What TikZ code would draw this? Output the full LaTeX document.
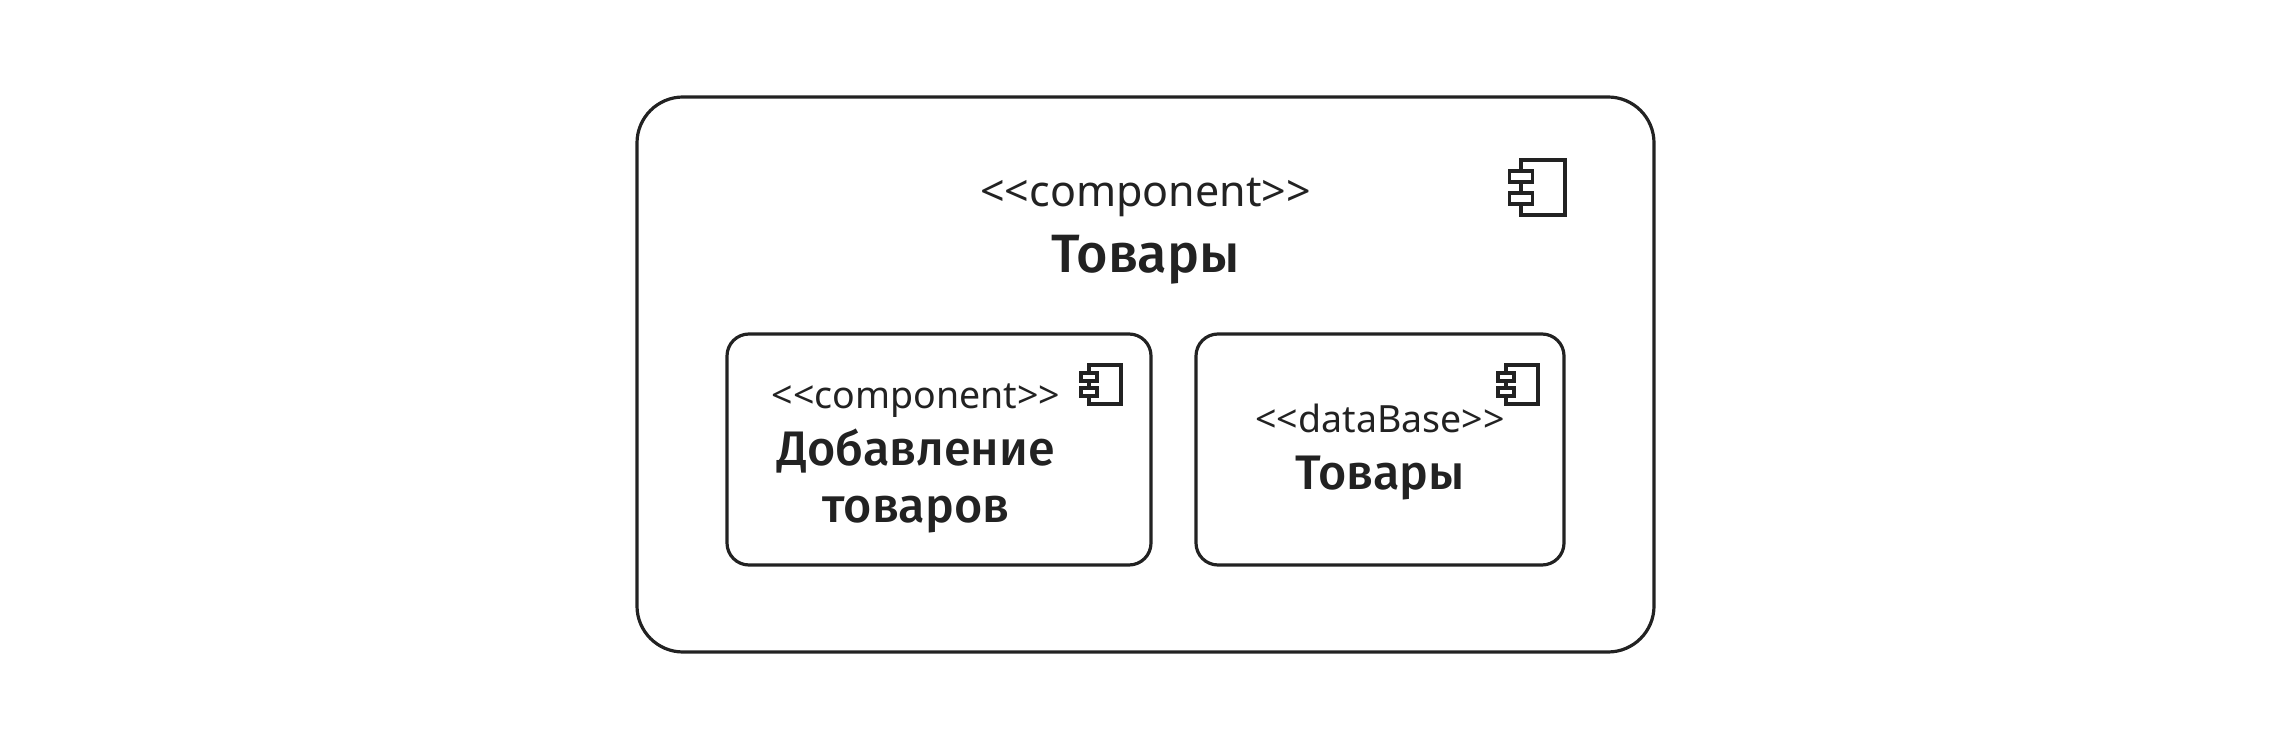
\documentclass[tikz,border=0pt]{standalone}
\usepackage{fontspec}
\setmainfont{Noto Sans}
\newfontfamily\namefont{Fira Sans Medium}
\usepackage{tikz}
\usetikzlibrary{calc,positioning}
\definecolor{ink}{HTML}{222222}

\begin{document}
\begin{tikzpicture}[text=ink, draw=ink]
	\tikzstyle{outerbox} = [draw, rectangle, rounded corners=46pt, line width=3.2pt, inner sep=0pt, outer sep=0pt, minimum width=1017pt, minimum height=555pt]
	\tikzstyle{innerbox} = [draw, rectangle, rounded corners=22pt, line width=3.2pt, inner sep=0pt, outer sep=0pt, minimum height=231pt]
	\tikzstyle{iconbody} = [draw, rectangle, line width=3.2pt, inner sep=0pt, outer sep=0pt, minimum width=44pt, minimum height=55pt]
	\tikzstyle{iconpin} = [draw, rectangle, fill=white, line width=3.2pt, inner sep=0pt, outer sep=0pt, minimum width=23pt, minimum height=11pt]
	\tikzstyle{smallbody} = [iconbody, minimum width=32pt, minimum height=39pt]
	\tikzstyle{smallpin} = [iconpin, minimum width=16pt, minimum height=8pt]
	\tikzstyle{stereobig} = [inner sep=0pt, font=\fontsize{43pt}{52pt}\selectfont]
	\tikzstyle{namebig} = [inner sep=0pt, font=\namefont\fontsize{54pt}{65pt}\selectfont]
	\tikzstyle{stereosmall} = [inner sep=0pt, font=\fontsize{37.5pt}{45pt}\selectfont]
	\tikzstyle{namesmall} = [inner sep=0pt, align=center, font=\namefont\fontsize{48.5pt}{57pt}\selectfont]

	\useasboundingbox (0,0) rectangle (2292pt,750pt);

	\node [outerbox] (outer) at (1145.5pt,375.5pt) {};
	\node [stereobig, below = 110pt of outer.north, anchor=base] (outerstereo) {<{}<component>{}>};
	\node [namebig, below = 176pt of outer.north, anchor=base] (outername) {Товары};
	\node [iconbody, below left = 63pt and 89pt of outer.north east, anchor=north east] (outericon) {};
	\node [iconpin] (outerpina) at ([yshift=11pt]outericon.west) {};
	\node [iconpin] (outerpinb) at ([yshift=-11pt]outericon.west) {};

	\node [innerbox, minimum width=424pt, below right = 237pt and 90pt of outer.north west, anchor=north west] (add) {};
	\node [innerbox, minimum width=368pt, right = 45pt of add] (db) {};

	\node [stereosmall, below = 75pt of add.north, xshift=-23pt, anchor=base] (addstereo) {<{}<component>{}>};
	\node [namesmall, below = 189pt of add.north, xshift=-23pt, anchor=base] (addname) {Добавление\\товаров};
	\node [smallbody, below left = 31pt and 30pt of add.north east, anchor=north east] (addicon) {};
	\node [smallpin] (addpina) at ([yshift=7.5pt]addicon.west) {};
	\node [smallpin] (addpinb) at ([yshift=-7.5pt]addicon.west) {};

	\node [stereosmall, below = 99pt of db.north, anchor=base] (dbstereo) {<{}<dataBase>{}>};
	\node [namesmall, below = 156pt of db.north, anchor=base] (dbname) {Товары};
	\node [smallbody, below left = 31pt and 26pt of db.north east, anchor=north east] (dbicon) {};
	\node [smallpin] (dbpina) at ([yshift=7.5pt]dbicon.west) {};
	\node [smallpin] (dbpinb) at ([yshift=-7.5pt]dbicon.west) {};
\end{tikzpicture}
\end{document}
